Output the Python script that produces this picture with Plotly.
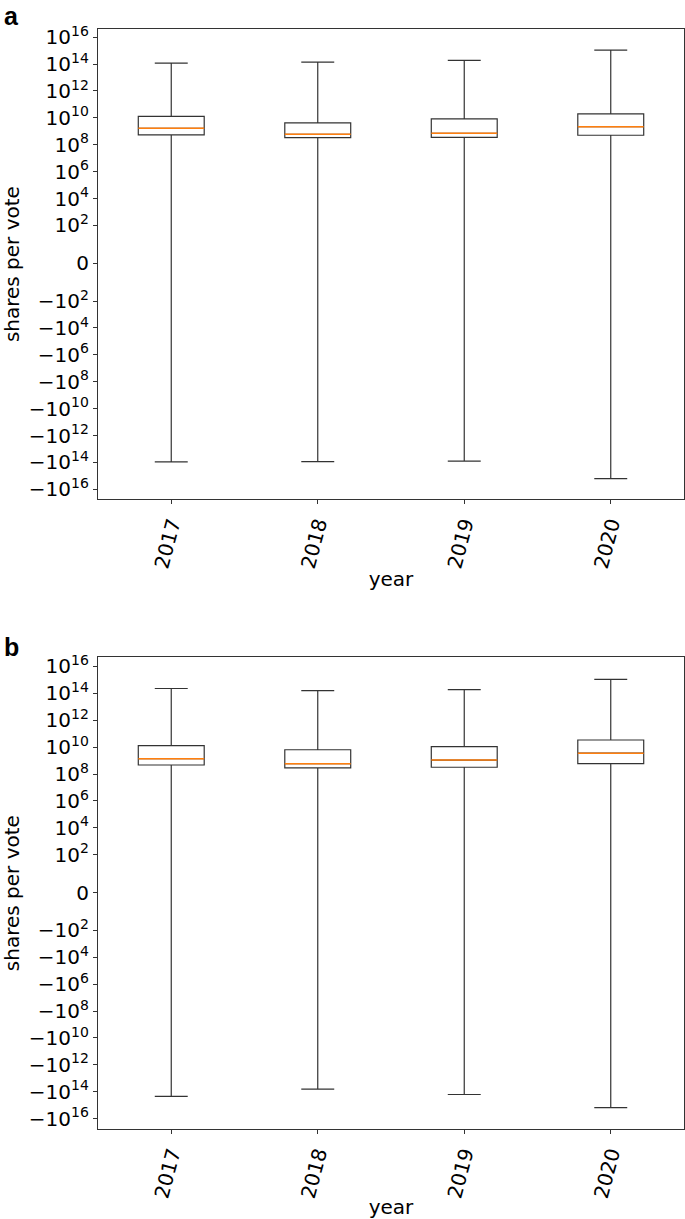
import numpy as np
import plotly.graph_objects as go

# ---------------- data ----------------
years = ["2017", "2018", "2019", "2020"]

a_upper = [1.2e14, 1.4e14, 1.9e14, 1.1e15]
a_q3 = [1.3e10, 4.2e9, 8.3e9, 2.0e10]
a_median = [1.7e9, 6.0e8, 7.2e8, 2.2e9]
a_q1 = [5.4e8, 3.4e8, 3.6e8, 5.1e8]
a_lower = [-9.1e13, -8.7e13, -8.1e13, -1.6e15]

b_upper = [2.3e14, 1.6e14, 1.9e14, 1.1e15]
b_q3 = [1.3e10, 6.4e9, 1.1e10, 3.4e10]
b_median = [1.4e9, 5.9e8, 1.1e9, 3.6e9]
b_q1 = [4.7e8, 2.9e8, 3.2e8, 5.9e8]
b_lower = [-2.2e14, -6.3e13, -1.6e14, -1.5e15]

tick_values = [1e16, 1e14, 1e12, 1e10, 1e8, 1e6, 1e4, 1e2, 0,
               -1e2, -1e4, -1e6, -1e8, -1e10, -1e12, -1e14, -1e16]
tick_exponents = [16, 14, 12, 10, 8, 6, 4, 2, None, 2, 4, 6, 8, 10, 12, 14, 16]

# ---------------- symlog scale (matplotlib style, linthresh=2, linscale=1) ----------------
LINTHRESH = 2.0
LINSCALE_ADJ = 1.0 / (1.0 - 1.0 / 10.0)


def symlog(v):
    v = np.asarray(v, dtype=float)
    a = np.abs(v)
    safe = np.maximum(a, 1e-300)
    return np.where(a > LINTHRESH,
                    np.sign(v) * (LINSCALE_ADJ + np.log10(safe / LINTHRESH)),
                    v / LINTHRESH * LINSCALE_ADJ)


tick_pos = symlog(tick_values).tolist()
tick_text = []
for v, e in zip(tick_values, tick_exponents):
    if e is None:
        tick_text.append("0")
    elif v > 0:
        tick_text.append(f"10<sup>{e}</sup>")
    else:
        tick_text.append(f"\u221210<sup>{e}</sup>")

xpos = [1, 2, 3, 4]
BOX_W = 0.45
LINE_C = "#333333"
MED_C = "#ff7f0e"
FONT = "DejaVu Sans"
FS = 20

fig = go.Figure()

panels = [
    ("x", "y", a_lower, a_q1, a_median, a_q3, a_upper),
    ("x2", "y2", b_lower, b_q1, b_median, b_q3, b_upper),
]

for xa, ya, lo, q1, med, q3, up in panels:
    fig.add_trace(go.Box(
        x=xpos,
        lowerfence=symlog(lo).tolist(),
        q1=symlog(q1).tolist(),
        median=symlog(med).tolist(),
        q3=symlog(q3).tolist(),
        upperfence=symlog(up).tolist(),
        width=BOX_W,
        whiskerwidth=0.5,
        fillcolor="white",
        line=dict(color=LINE_C, width=1.2),
        showlegend=False,
        xaxis=xa, yaxis=ya,
    ))
    mx, my = [], []
    for xi, m in zip(xpos, symlog(med).tolist()):
        mx += [xi - BOX_W / 2, xi + BOX_W / 2, None]
        my += [m, m, None]
    fig.add_trace(go.Scatter(
        x=mx, y=my, mode="lines",
        line=dict(color=MED_C, width=1.5),
        showlegend=False, hoverinfo="skip",
        xaxis=xa, yaxis=ya,
    ))

axis_common = dict(
    showline=True, mirror=True, linecolor=LINE_C, linewidth=1.2,
    ticks="outside", ticklen=4, tickcolor=LINE_C, tickwidth=1,
    showgrid=False, zeroline=False,
)

xaxis_cfg = dict(
    axis_common,
    range=[0.5, 4.5],
    tickvals=xpos, ticktext=years, tickangle=-75,
    tickfont=dict(family=FONT, size=FS, color="black"),
    title=dict(text="year", font=dict(family=FONT, size=FS, color="black"), standoff=1),
)
yaxis_cfg = dict(
    axis_common,
    tickvals=tick_pos, ticktext=tick_text,
    tickfont=dict(family=FONT, size=FS, color="black"),
    title=dict(text="shares per vote", font=dict(family=FONT, size=FS, color="black"), standoff=5),
)

fig.update_layout(
    width=685, height=1219,
    margin=dict(l=98, r=1, t=29, b=90),
    paper_bgcolor="white", plot_bgcolor="white",
    xaxis=dict(xaxis_cfg, domain=[0, 1], anchor="y"),
    yaxis=dict(yaxis_cfg, domain=[0.5725, 1.0], range=[-17.55, 17.42], anchor="x"),
    xaxis2=dict(xaxis_cfg, domain=[0, 1], anchor="y2"),
    yaxis2=dict(yaxis_cfg, domain=[0.0, 0.4288], range=[-17.58, 17.49], anchor="x2"),
    annotations=[
        dict(text="<b>a</b>", x=-0.164, y=1.0264, xref="paper", yref="paper",
             xanchor="left", yanchor="top", showarrow=False,
             font=dict(family="Liberation Sans", size=25, color="black")),
        dict(text="<b>b</b>", x=-0.164, y=0.4530, xref="paper", yref="paper",
             xanchor="left", yanchor="top", showarrow=False,
             font=dict(family="Liberation Sans", size=25, color="black")),
    ],
)

fig.write_html(
    "out.html",
    config={"displayModeBar": False},
    post_script="document.body.style.margin='0';document.body.style.overflow='hidden';",
)
